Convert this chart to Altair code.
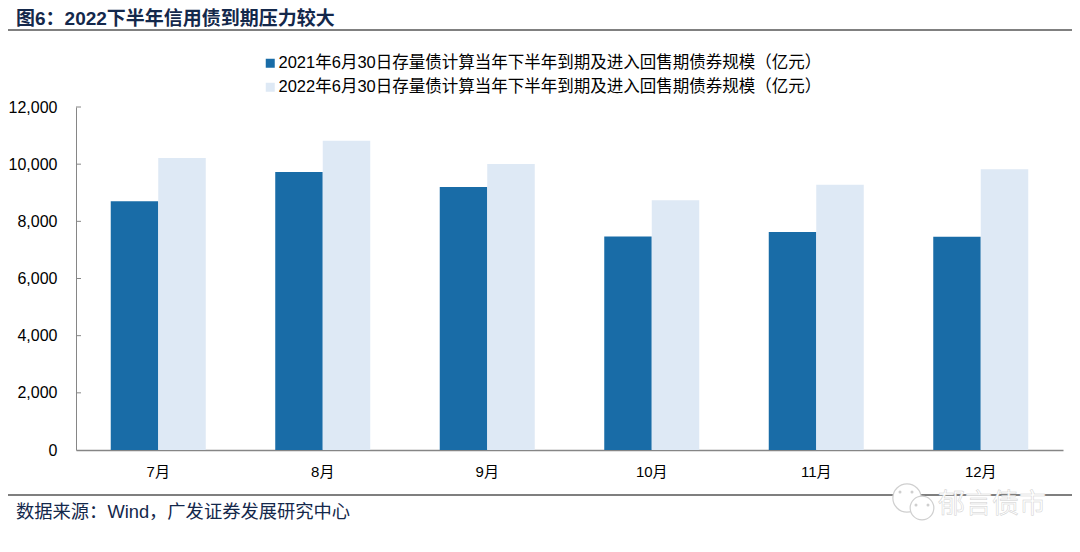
import altair as alt
import pandas as pd

months = ["7月", "8月", "9月", "10月", "11月", "12月"]
s2021 = [8700, 9730, 9200, 7470, 7630, 7460]
s2022 = [10220, 10820, 10010, 8740, 9280, 9820]
name21 = "2021年6月30日存量债计算当年下半年到期及进入回售期债券规模（亿元）"
name22 = "2022年6月30日存量债计算当年下半年到期及进入回售期债券规模（亿元）"
yticks = [0, 2000, 4000, 6000, 8000, 10000, 12000]

df = pd.DataFrame(
    [{"m": m, "s": name21, "v": v} for m, v in zip(months, s2021)]
    + [{"m": m, "s": name22, "v": v} for m, v in zip(months, s2022)]
)
FONT = "Liberation Sans, Noto Sans CJK SC"
W, H = 987, 343
AX = "#868686"
yscale = alt.Scale(domain=[0, 12000], nice=False)
yaxis = alt.Axis(values=yticks, format=",.0f", labelFont=FONT, labelFontSize=16, labelColor="#000000",
                 labelPadding=19, ticks=False, tickSize=0, domainColor=AX, domainWidth=1, grid=False)

bars = alt.Chart(df).mark_bar(opacity=1).encode(
    x=alt.X("m:N", sort=months, title=None,
            scale=alt.Scale(paddingInner=0.4225, paddingOuter=0.2112),
            axis=alt.Axis(labelAngle=0, labelFont=FONT, labelFontSize=15, labelColor="#000000",
                          labelPadding=14, ticks=False, domainColor=AX, domainWidth=1.5, grid=False)),
    xOffset=alt.XOffset("s:N", sort=[name21, name22]),
    y=alt.Y("v:Q", title=None, scale=yscale, axis=yaxis),
    color=alt.Color("s:N", sort=[name21, name22],
                    scale=alt.Scale(domain=[name21, name22], range=["#196CA7", "#DEE9F5"]),
                    legend=alt.Legend(orient="none", legendX=186, legendY=-52, title=None, direction="vertical",
                                      symbolType="square", symbolSize=81, symbolStrokeWidth=0, labelFont=FONT,
                                      labelFontSize=16.5, labelColor="#000000", rowPadding=7, labelLimit=700,
                                      labelOffset=0, symbolOffset=0)),
)

inner_ticks = alt.Chart(pd.DataFrame({"v": yticks[1:]})).mark_rule(color=AX, strokeWidth=1).encode(
    y=alt.Y("v:Q", scale=yscale, title=None, axis=yaxis), x=alt.value(0), x2=alt.value(5))

def txt(label, x, y, size, color, weight="normal", **kw):
    return alt.Chart(pd.DataFrame({"t": [label]})).mark_text(
        font=FONT, fontSize=size, fontWeight=weight, align="left", baseline="middle",
        **({"color": color} if color else {}), **kw,
    ).encode(text="t:N", x=alt.value(x), y=alt.value(y))

def rule(x1, x2, y, color, w):
    return alt.Chart(pd.DataFrame({"a": [0]})).mark_rule(color=color, strokeWidth=w).encode(
        x=alt.value(x1), x2=alt.value(x2), y=alt.value(y))

def bubble(x, y, size, filled=False):
    kw = dict(filled=True, color="#CFCFCF") if filled else dict(filled=True, fill="#FFFFFF", stroke="#CFCFCF", strokeWidth=1.2, fillOpacity=1)
    return alt.Chart(pd.DataFrame({"a": [0]})).mark_point(shape="circle", size=size, opacity=1, **kw).encode(
        x=alt.value(x), y=alt.value(y))

ox, oy = 76, 107
chart = alt.layer(
    bars,
    inner_ticks,
    txt("图6：2022下半年信用债到期压力较大", 16 - ox, 19 - oy, 19, "#14284B", "bold"),
    rule(4 - ox, 1080 - ox, 30 - oy, "#808080", 2),
    rule(4 - ox, 1080 - ox, 495 - oy, "#000000", 1.2),
    txt("数据来源：Wind，广发证券发展研究中心", 16 - ox, 513 - oy, 18.3, "#14284B"),
    bubble(907 - ox, 498 - oy, 800),
    bubble(922 - ox, 508 - oy, 560),
    bubble(900 - ox, 492 - oy, 9, True),
    bubble(912 - ox, 492 - oy, 9, True),
    bubble(916 - ox, 505 - oy, 9, True),
    bubble(928 - ox, 505 - oy, 9, True),
    txt("郁言债市", 938 - ox, 505 - oy, 27, None, fill="#FFFFFF", stroke="#CFCFCF", strokeWidth=0.5),
).properties(
    width=W, height=H,
    padding={"left": ox - 8, "top": oy - 8, "right": 9, "bottom": 80},
    autosize=alt.AutoSizeParams(type="none"),
).configure_view(stroke=None)

chart.save("out.html", embed_options={"renderer": "svg", "actions": False})
